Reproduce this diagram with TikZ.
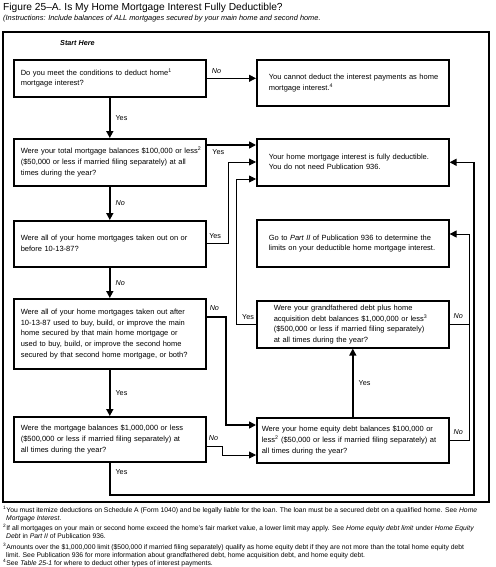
\documentclass[tikz,border=0pt]{standalone}
\usepackage{fontspec}
\setmainfont{Liberation Sans}
\usetikzlibrary{arrows.meta}
\newcommand\boxlines[1]{\begin{tabular}{@{}l@{}}#1\end{tabular}}
\begin{document}
\begin{tikzpicture}[x=1pt,y=-1pt,
  box/.style={draw,line width=1.6pt,rectangle,anchor=north west,inner ysep=0pt,
    align=left,font=\fontsize{7.5}{10.6}\selectfont},
  thick line/.style={line width=1.6pt},
  thin line/.style={line width=0.8pt},
  arr/.style={-{Triangle[length=7pt,width=7pt]}},
  lab/.style={font=\fontsize{7.2}{8}\selectfont,inner sep=1pt},
  nolab/.style={lab,font=\fontsize{7.2}{8}\selectfont\itshape},
  foot/.style={anchor=north west,align=left,inner sep=0pt,font=\fontsize{6.8}{8}\selectfont}]
\useasboundingbox (0,0) rectangle (495,567);
% title
\node[anchor=base west,inner sep=0pt,font=\fontsize{10.2}{12}\selectfont] (title) at (3,11)
  {Figure 25--A. Is My Home Mortgage Interest Fully Deductible?};
\node[anchor=base west,inner sep=0pt,font=\fontsize{7.4}{8}\selectfont\itshape] (sub) at (3,21)
  {(Instructions: Include balances of ALL mortgages secured by your main home and second home.};
% frame
\draw[line width=2pt] (3,32) rectangle (489,502);
\node[anchor=base west,inner sep=0pt,font=\fontsize{7.2}{8}\selectfont\bfseries\itshape] (start) at (60,46) {Start Here};
% boxes
\node[box,minimum width=192pt,minimum height=37pt,inner xsep=7pt,text width=178pt] (Q1) at (13,59)
  {\boxlines{Do you meet the conditions to deduct home\textsuperscript{1}\\mortgage interest?}};
\node[box,minimum width=192pt,minimum height=46pt,inner xsep=12pt,text width=168pt] (R1) at (256,59)
  {\boxlines{You cannot deduct the interest payments as home\\mortgage interest.\textsuperscript{4}}};
\node[box,minimum width=192pt,minimum height=47pt,inner xsep=7pt,text width=178pt] (Q2) at (13,138)
  {\boxlines{Were your total mortgage balances \$100,000 or less\textsuperscript{2}\\(\$50,000 or less if married filing separately) at all\\times during the year?}};
\node[box,minimum width=192pt,minimum height=47pt,inner xsep=12pt,text width=168pt] (R2) at (256,138)
  {\boxlines{Your home mortgage interest is fully deductible.\\You do not need Publication 936.}};
\node[box,minimum width=192pt,minimum height=46pt,inner xsep=7pt,text width=178pt] (Q3) at (13,220)
  {\boxlines{Were all of your home mortgages taken out on or\\before 10-13-87?}};
\node[box,minimum width=192pt,minimum height=47pt,inner xsep=12pt,text width=168pt] (R3) at (256,219)
  {\boxlines{Go to \textit{Part II} of Publication 936 to determine the\\limits on your deductible home mortgage interest.}};
\node[box,minimum width=192pt,minimum height=70pt,inner xsep=7pt,text width=178pt] (Q4) at (13,298)
  {\boxlines{Were all of your home mortgages taken out after\\10-13-87 used to buy, build, or improve the main\\home secured by that main home mortgage or\\used to buy, build, or improve the second home\\secured by that second home mortgage, or both?}};
\node[box,minimum width=192pt,minimum height=47pt,inner xsep=17pt,text width=158pt] (R4) at (256,300)
  {\boxlines{Were your grandfathered debt plus home\\acquisition debt balances \$1,000,000 or less\textsuperscript{3}\\(\$500,000 or less if married filing separately)\\at all times during the year?}};
\node[box,minimum width=192pt,minimum height=45pt,inner xsep=7pt,text width=178pt] (Q6) at (13,416)
  {\boxlines{Were the mortgage balances \$1,000,000 or less\\(\$500,000 or less if married filing separately) at\\all times during the year?}};
\node[box,minimum width=192pt,minimum height=45pt,inner xsep=5pt,text width=182pt] (R5) at (256,417)
  {\boxlines{Were your home equity debt balances \$100,000 or\\less\textsuperscript{2} (\$50,000 or less if married filing separately) at\\all times during the year?}};
% helper coordinates
\coordinate (xa) at (228,0);
\coordinate (xb) at (236,0);
\coordinate (xc) at (226,0);
\coordinate (xd) at (222,0);
\coordinate (xr) at (469,0);
\coordinate (xy) at (474,0);
\coordinate (ybot) at (0,495);
\coordinate (R2a) at ([yshift=-7pt]R2.north west);
\coordinate (R2b) at ([yshift=-24pt]R2.north west);
\coordinate (R2c) at ([yshift=-41pt]R2.north west);
\coordinate (R5a) at ([yshift=-8pt]R5.north west);
\coordinate (R5b) at ([yshift=-38pt]R5.north west);
\coordinate (R3in) at ([yshift=-15pt]R3.north east);
\coordinate (Q4out) at ([yshift=-19pt]Q4.north east);
\coordinate (Q6out) at ([yshift=-30pt]Q6.north east);
% connectors
\draw[thin line,arr] (Q1.east) -- node[nolab,pos=0.08,anchor=south west,yshift=3pt] {No} (Q1.east -| R1.west);
\draw[thick line,arr] (Q1.south) -- node[lab,anchor=west,xshift=4pt] {Yes} (Q2.north);
\draw[thick line,arr] (R2a -| Q2.east) -- node[lab,pos=0.08,anchor=north west,yshift=-3pt] {Yes} (R2a);
\draw[thick line,arr] (Q2.south) -- node[nolab,anchor=west,xshift=4pt] {No} (Q3.north);
\draw[thin line,arr] (Q3.east) -- node[lab,pos=0.4,anchor=south,yshift=4pt] {Yes} (Q3.east -| xa) -- (R2b -| xa) -- (R2b);
\draw[thin line,arr] (R4.west) -- node[lab,pos=0.4,anchor=south,yshift=3pt] {Yes} (R4.west -| xb) -- (R2c -| xb) -- (R2c);
\draw[thick line,arr] (Q3.south) -- node[nolab,anchor=west,xshift=4pt] {No} (Q4.north);
\draw[thick line,arr] (Q4out) -- node[nolab,pos=0.4,anchor=south,yshift=5pt] {No} (Q4out -| xc) -- (R5a -| xc) -- (R5a);
\draw[thick line,arr] (Q4.south) -- node[lab,anchor=west,xshift=4pt] {Yes} (Q6.north);
\draw[thin line,arr] (Q6out) -- node[nolab,pos=0.45,anchor=south,yshift=4pt] {No} (Q6out -| xd) -- (R5b -| xd) -- (R5b);
\draw[thick line,arr] (Q6.south) -- node[lab,pos=0.3,anchor=west,xshift=4pt] {Yes} (Q6.south |- ybot) -- (xy |- ybot) -- (xy |- R2.east) -- (R2.east);
\draw[thick line,arr] (R5.north) -- node[lab,anchor=west,xshift=4pt] {Yes} (R4.south);
\draw[thin line] (R4.east) -- node[nolab,pos=0.45,anchor=south,yshift=4pt] {No} (R4.east -| xr);
\draw[thin line,arr] (R5.east) -- node[nolab,pos=0.45,anchor=south,yshift=4pt] {No} (R5.east -| xr) -- (R3in -| xr) -- (R3in);
% footnotes
\node[foot] (fn) at (3,506) {%
\textsuperscript{1}You must itemize deductions on Schedule A (Form 1040) and be legally liable for the loan. The loan must be a secured debt on a qualified home. See \textit{Home}\\
\hspace*{3pt}\textit{Mortgage Interest}.\\[2.5pt]
\textsuperscript{2}If all mortgages on your main or second home exceed the home's fair market value, a lower limit may apply. See \textit{Home equity debt limit} under \textit{Home Equity}\\
\hspace*{3pt}\textit{Debt} in \textit{Part II} of Publication 936.\\[2.5pt]
\textsuperscript{3}Amounts over the \$1,000,000 limit (\$500,000 if married filing separately) qualify as home equity debt if they are not more than the total home equity debt\\
\hspace*{3pt}limit. See Publication 936 for more information about grandfathered debt, home acquisition debt, and home equity debt.\\
\textsuperscript{4}See \textit{Table 25-1} for where to deduct other types of interest payments.};
\end{tikzpicture}
\end{document}
